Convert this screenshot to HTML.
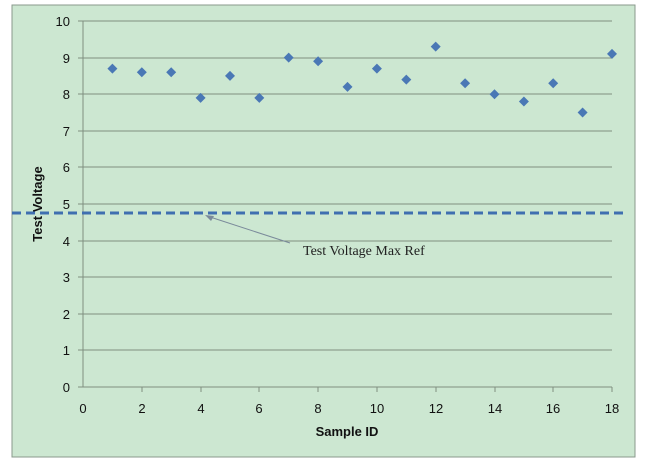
<!DOCTYPE html>
<html><head><style>body{margin:0;background:#fff}</style></head><body>
<svg width="658" height="465" xmlns="http://www.w3.org/2000/svg" font-family="Liberation Sans, sans-serif">
<rect x="12" y="5" width="623" height="452" fill="#cce7d1" stroke="#8a9a8c" stroke-width="1"/>
<g stroke="#7f8f80" stroke-width="1">
<line x1="83" y1="21" x2="612" y2="21"/><line x1="83" y1="58" x2="612" y2="58"/><line x1="83" y1="94" x2="612" y2="94"/><line x1="83" y1="131" x2="612" y2="131"/><line x1="83" y1="167" x2="612" y2="167"/><line x1="83" y1="204" x2="612" y2="204"/><line x1="83" y1="241" x2="612" y2="241"/><line x1="83" y1="277" x2="612" y2="277"/><line x1="83" y1="314" x2="612" y2="314"/><line x1="83" y1="350" x2="612" y2="350"/>
<line x1="78" y1="387" x2="612" y2="387"/><line x1="83" y1="21" x2="83" y2="387"/>
<line x1="78" y1="21" x2="83" y2="21"/><line x1="78" y1="58" x2="83" y2="58"/><line x1="78" y1="94" x2="83" y2="94"/><line x1="78" y1="131" x2="83" y2="131"/><line x1="78" y1="167" x2="83" y2="167"/><line x1="78" y1="204" x2="83" y2="204"/><line x1="78" y1="241" x2="83" y2="241"/><line x1="78" y1="277" x2="83" y2="277"/><line x1="78" y1="314" x2="83" y2="314"/><line x1="78" y1="350" x2="83" y2="350"/>
<line x1="142" y1="387" x2="142" y2="392"/><line x1="201" y1="387" x2="201" y2="392"/><line x1="259" y1="387" x2="259" y2="392"/><line x1="318" y1="387" x2="318" y2="392"/><line x1="377" y1="387" x2="377" y2="392"/><line x1="436" y1="387" x2="436" y2="392"/><line x1="495" y1="387" x2="495" y2="392"/><line x1="553" y1="387" x2="553" y2="392"/><line x1="612" y1="387" x2="612" y2="392"/>
</g>
<g font-size="13" fill="#111" text-anchor="end">
<text x="70" y="26">10</text><text x="70" y="63">9</text><text x="70" y="99">8</text><text x="70" y="136">7</text><text x="70" y="172">6</text><text x="70" y="209">5</text><text x="70" y="246">4</text><text x="70" y="282">3</text><text x="70" y="319">2</text><text x="70" y="355">1</text><text x="70" y="392">0</text>
</g>
<g font-size="13" fill="#111" text-anchor="middle">
<text x="83" y="413">0</text><text x="142" y="413">2</text><text x="201" y="413">4</text><text x="259" y="413">6</text><text x="318" y="413">8</text><text x="377" y="413">10</text><text x="436" y="413">12</text><text x="495" y="413">14</text><text x="553" y="413">16</text><text x="612" y="413">18</text>
</g>
<text x="347" y="436" font-size="13" font-weight="bold" text-anchor="middle" fill="#111">Sample ID</text>
<text transform="translate(42,204) rotate(-90)" font-size="13" font-weight="bold" text-anchor="middle" fill="#111">Test Voltage</text>
<line x1="12" y1="213" x2="628" y2="213" stroke="#3f6fb0" stroke-width="3" stroke-dasharray="9,5"/>
<line x1="290" y1="243" x2="207" y2="216" stroke="#7a8a9a" stroke-width="1"/>
<path d="M205 215 L214 216 L211 221 Z" fill="#7a8a9a"/>
<text x="303" y="255" font-family="Liberation Serif, serif" font-size="14" fill="#222">Test Voltage Max Ref</text>
<g fill="#4a78b5">
<path d="M112.4 63.6 l5 5 -5 5 -5 -5z"/>
<path d="M141.8 67.2 l5 5 -5 5 -5 -5z"/>
<path d="M171.2 67.2 l5 5 -5 5 -5 -5z"/>
<path d="M200.6 92.9 l5 5 -5 5 -5 -5z"/>
<path d="M230 70.9 l5 5 -5 5 -5 -5z"/>
<path d="M259.3 92.9 l5 5 -5 5 -5 -5z"/>
<path d="M288.7 52.6 l5 5 -5 5 -5 -5z"/>
<path d="M318.1 56.3 l5 5 -5 5 -5 -5z"/>
<path d="M347.5 81.9 l5 5 -5 5 -5 -5z"/>
<path d="M376.9 63.6 l5 5 -5 5 -5 -5z"/>
<path d="M406.3 74.6 l5 5 -5 5 -5 -5z"/>
<path d="M435.7 41.6 l5 5 -5 5 -5 -5z"/>
<path d="M465.1 78.2 l5 5 -5 5 -5 -5z"/>
<path d="M494.5 89.2 l5 5 -5 5 -5 -5z"/>
<path d="M523.9 96.5 l5 5 -5 5 -5 -5z"/>
<path d="M553.2 78.2 l5 5 -5 5 -5 -5z"/>
<path d="M582.6 107.5 l5 5 -5 5 -5 -5z"/>
<path d="M612 48.9 l5 5 -5 5 -5 -5z"/>
</g>
</svg>
</body></html>
